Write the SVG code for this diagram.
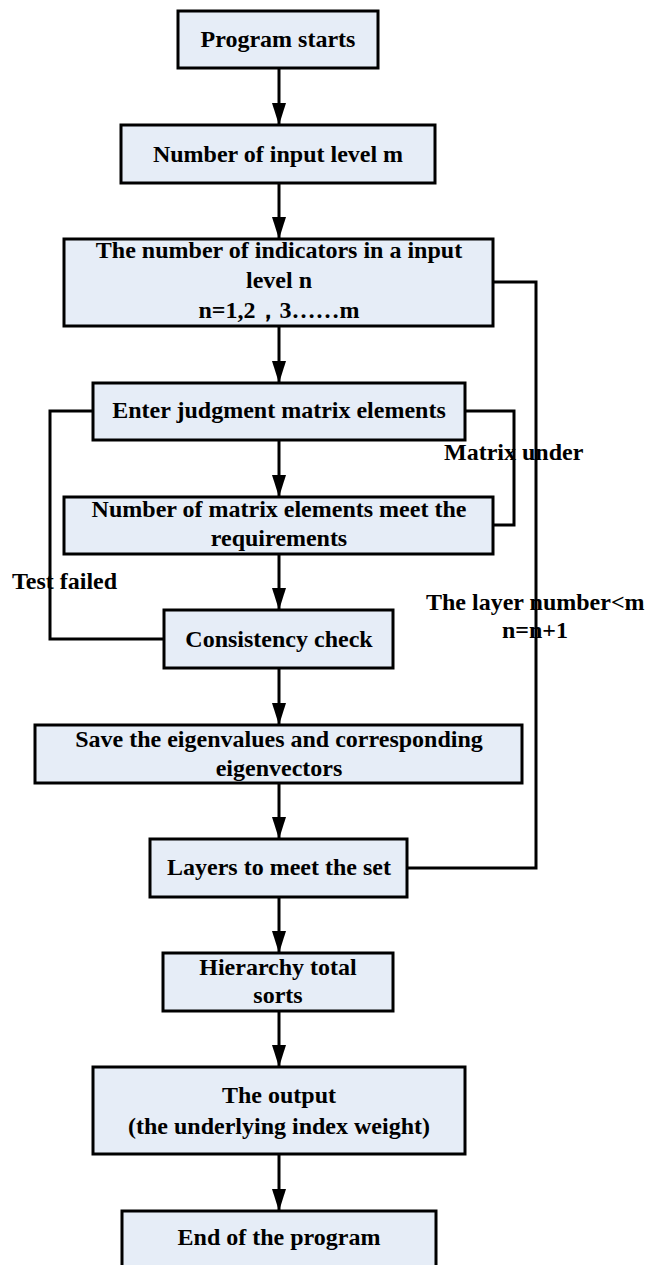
<svg xmlns="http://www.w3.org/2000/svg" width="646" height="1265" viewBox="0 0 646 1265">
<defs>
<style>
.box{fill:#E6EDF7;stroke:#000;stroke-width:3}
.t{font-family:"Liberation Serif","Times New Roman",serif;font-weight:bold;font-size:24px;fill:#000;text-anchor:middle}
.lbl{font-family:"Liberation Serif","Times New Roman",serif;font-weight:bold;font-size:24px;fill:#000}
.c{fill:none;stroke:#000;stroke-width:3}
</style>
<marker id="ah" markerUnits="userSpaceOnUse" markerWidth="22" markerHeight="14" refX="22" refY="7" orient="auto">
<path d="M0,0 L22,7 L0,14 z" fill="#000"/>
</marker>
</defs>
<rect width="646" height="1265" fill="#fff"/>
<g id="connectors">
<line class="c" x1="279" y1="68" x2="279" y2="125" marker-end="url(#ah)"/>
<line class="c" x1="279" y1="183" x2="279" y2="239" marker-end="url(#ah)"/>
<line class="c" x1="279" y1="326" x2="279" y2="383" marker-end="url(#ah)"/>
<line class="c" x1="279" y1="440" x2="279" y2="497" marker-end="url(#ah)"/>
<line class="c" x1="279" y1="554" x2="279" y2="610" marker-end="url(#ah)"/>
<line class="c" x1="279" y1="668" x2="279" y2="725" marker-end="url(#ah)"/>
<line class="c" x1="279" y1="783" x2="279" y2="839" marker-end="url(#ah)"/>
<line class="c" x1="279" y1="897" x2="279" y2="953" marker-end="url(#ah)"/>
<line class="c" x1="279" y1="1011" x2="279" y2="1067" marker-end="url(#ah)"/>
<line class="c" x1="279" y1="1154" x2="279" y2="1211" marker-end="url(#ah)"/>
<polyline class="c" points="493,282 536,282 536,868 407,868"/>
<polyline class="c" points="465,411 514,411 514,525 493,525"/>
<polyline class="c" points="93,411 50,411 50,639 164,639"/>
<text class="lbl" x="444" y="460">Matrix under</text>
<text class="lbl" x="12" y="589">Test failed</text>
<text class="lbl" x="426" y="610">The layer number&lt;m</text>
<text class="lbl" x="502" y="638">n=n+1</text>
</g>
<g id="n1"><rect class="box" x="178" y="11" width="200" height="57"/><text class="t" x="278" y="47">Program starts</text></g>
<g id="n2"><rect class="box" x="121" y="125" width="314" height="58"/><text class="t" x="278" y="162">Number of input level m</text></g>
<g id="n3"><rect class="box" x="64" y="239" width="429" height="87"/><text class="t" x="279" y="258">The number of indicators in a input</text><text class="t" x="279" y="288">level n</text><text class="t" x="279" y="318">n=1,2，3……m</text></g>
<g id="n4"><rect class="box" x="93" y="383" width="372" height="57"/><text class="t" x="279" y="418">Enter judgment matrix elements</text></g>
<g id="n5"><rect class="box" x="64" y="497" width="429" height="57"/><text class="t" x="279" y="517">Number of matrix elements meet the</text><text class="t" x="279" y="546">requirements</text></g>
<g id="n6"><rect class="box" x="164" y="610" width="229" height="58"/><text class="t" x="279" y="647">Consistency check</text></g>
<g id="n7"><rect class="box" x="35" y="725" width="487" height="58"/><text class="t" x="279" y="747">Save the eigenvalues and corresponding</text><text class="t" x="279" y="776">eigenvectors</text></g>
<g id="n8"><rect class="box" x="150" y="839" width="257" height="58"/><text class="t" x="279" y="875">Layers to meet the set</text></g>
<g id="n9"><rect class="box" x="163" y="953" width="230" height="58"/><text class="t" x="278" y="975">Hierarchy total</text><text class="t" x="278" y="1003">sorts</text></g>
<g id="n10"><rect class="box" x="93" y="1067" width="372" height="87"/><text class="t" x="279" y="1103">The output</text><text class="t" x="279" y="1134">(the underlying index weight)</text></g>
<g id="n11"><rect class="box" x="122" y="1211" width="314" height="70"/><text class="t" x="279" y="1245">End of the program</text></g>
</svg>
